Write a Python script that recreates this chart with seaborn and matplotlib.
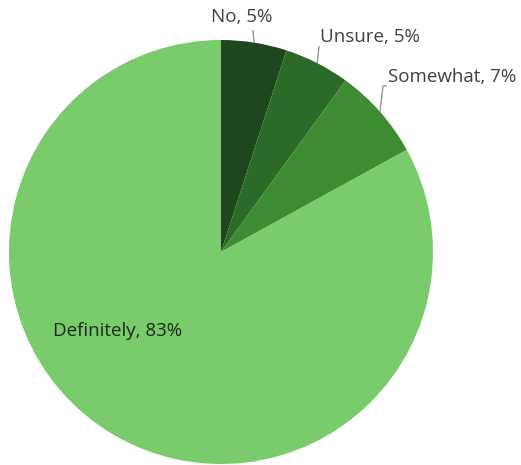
import numpy as np
import matplotlib
matplotlib.use("Agg")
import matplotlib.pyplot as plt
import seaborn as sns

# Survey responses
categories = ["No", "Unsure", "Somewhat", "Definitely"]
percentages = [5, 5, 7, 83]
colors = ["#1f471e", "#2c6a28", "#3e8c31", "#7acb6c"]

sns.set_theme(style="white")
plt.rcParams["font.family"] = ["Open Sans", "DejaVu Sans"]

W, H = 521, 465
fig = plt.figure(figsize=(W / 100, H / 100), dpi=100)
ax = fig.add_axes([0, 0, 1, 1])

cx, cy, r = 221, H - 252, 212
wedges, _ = ax.pie(
    percentages,
    colors=colors,
    startangle=90,
    counterclock=False,
    radius=r,
    center=(cx, cy),
    wedgeprops=dict(linewidth=0),
    frame=True,
)
ax.set_xlim(0, W)
ax.set_ylim(0, H)
ax.set_aspect("equal")
ax.axis("off")

# label layout: text anchor and leader elbow points, in pixels from the top
label_layout = {
    "No": dict(tx=242, ty=17, ha="center", pts=[(253, 30)]),
    "Unsure": dict(tx=320, ty=37, ha="left", pts=[(319, 46)]),
    "Somewhat": dict(tx=388, ty=77, ha="left", pts=[(383, 86), (387, 86)]),
}

fs = 13.5
text_color = "#404040"
for w, cat, pct in zip(wedges, categories, percentages):
    label = f"{cat}, {pct}%"
    mid = np.deg2rad((w.theta1 + w.theta2) / 2)
    if cat in label_layout:
        lay = label_layout[cat]
        ex, ey = cx + r * np.cos(mid), cy + r * np.sin(mid)
        xs = [ex] + [p[0] for p in lay["pts"]]
        ys = [ey] + [H - p[1] for p in lay["pts"]]
        ax.plot(xs, ys, color="#8c8c8c", lw=0.9, solid_capstyle="butt")
        ax.text(lay["tx"], H - lay["ty"], label, ha=lay["ha"], va="center",
                fontsize=fs, color=text_color)
    else:
        ax.text(cx - 103, H - 331, label, ha="center", va="center",
                fontsize=fs, color="#1c2a1a")

fig.savefig("out.png", dpi=100)
